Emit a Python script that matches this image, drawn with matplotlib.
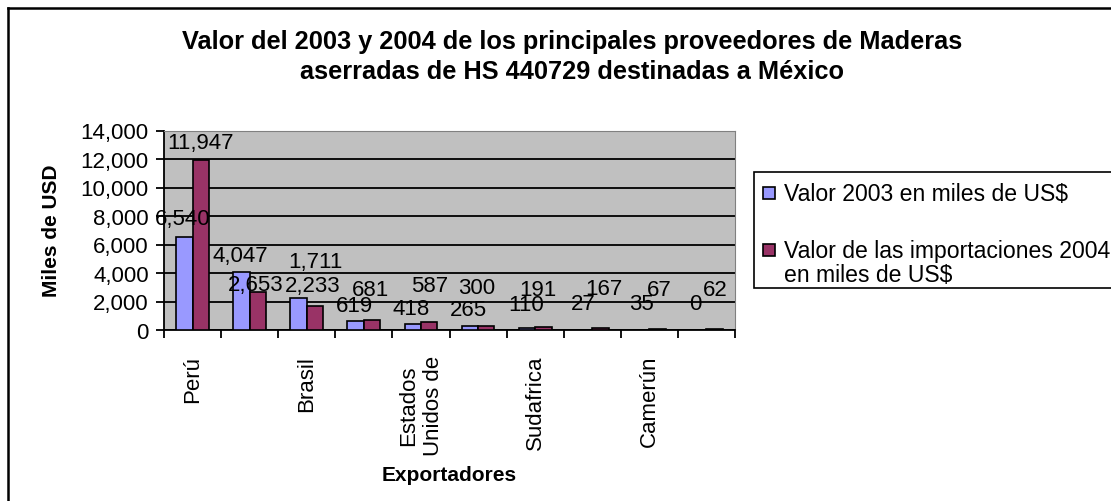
import matplotlib.pyplot as plt
from matplotlib.patches import Rectangle
from matplotlib.ticker import FuncFormatter
import numpy as np

plt.rcParams['font.family'] = ['Liberation Sans', 'DejaVu Sans']

# data
paises = ['Perú', '', 'Brasil', '', 'Estados\nUnidos de', '', 'Sudafrica', '', 'Camerún', '']
valor_2003 = [6540, 4047, 2233, 619, 418, 265, 110, 27, 35, 0]
valor_2004 = [11947, 2653, 1711, 681, 587, 300, 191, 167, 67, 62]
serie_2003 = 'Valor 2003 en miles de US$'
serie_2004 = 'Valor de las importaciones 2004\nen miles de US$'
titulo = 'Valor del 2003 y 2004 de los principales proveedores de Maderas\naserradas de HS 440729 destinadas a México'

# label offsets in pixels (dx, dy) as they sit in the original
off_2003 = [(-2, 18), (-1, 17), (14, 13), (-1, 16), (-2, 16), (-1, 17), (-1, 24), (-1, 26), (0, 26), (-3, 26)]
off_2004 = [(0, 17), (-2, 8), (0, 44), (-2, 31), (0, 36), (-10, 38), (-5, 38), (3, 39), (2, 40), (1, 40)]

W, H = 1111, 502
fig = plt.figure(figsize=(W / 100, H / 100), dpi=100)
ax = fig.add_axes([164 / W, 1 - 331 / H, (735 - 164) / W, (331 - 131.5) / H])
ax.set_facecolor('#C0C0C0')

x = np.arange(len(paises))
bw = 0.287
b1 = ax.bar(x - bw / 2, valor_2003, bw, color='#9999FF', edgecolor='black', linewidth=1.2, zorder=3)
b2 = ax.bar(x + bw / 2, valor_2004, bw, color='#993366', edgecolor='black', linewidth=1.2, zorder=3)

for bars, vals, offs in [(b1, valor_2003, off_2003), (b2, valor_2004, off_2004)]:
    for r, v, (dx, dy) in zip(bars, vals, offs):
        ax.annotate(f'{v:,}', (r.get_x() + r.get_width() / 2, v), xytext=(dx, dy),
                    textcoords='offset pixels', ha='center', va='center', fontsize=16, zorder=4)

ax.set_xlim(-0.5, len(paises) - 0.5)
ax.set_ylim(0, 14000)
ax.set_yticks(np.arange(0, 14001, 2000))
ax.yaxis.set_major_formatter(FuncFormatter(lambda v, p: f'{int(v):,}'))
ax.grid(axis='y', color='black', linewidth=1.3, zorder=1)
ax.set_axisbelow(True)

ax.set_xticks(np.arange(-0.5, len(paises), 1))
ax.set_xticklabels([])
ax.set_xticks(x[::2], minor=True)
ax.set_xticklabels(paises[::2], minor=True, rotation=90, va='top', ha='center',
                   multialignment='center', fontsize=16)
ax.tick_params(axis='x', which='minor', length=0, pad=18)
ax.tick_params(axis='x', which='major', length=6, width=1.3, direction='out')
ax.tick_params(axis='y', length=6, width=1.3, labelsize=16, pad=5)

for s in ['left', 'bottom']:
    ax.spines[s].set_linewidth(1.3)
for s in ['top', 'right']:
    ax.spines[s].set_color('#808080')

ax.set_ylabel('Miles de USD', fontsize=15, fontweight='bold', labelpad=14)
ax.set_xlabel('Exportadores', fontsize=15, fontweight='bold')
ax.xaxis.set_label_coords(0.5, -(466 - 331) / (331 - 131.5))

fig.text(572 / W, 1 - 57 / H, titulo, ha='center', va='center', fontsize=18.3,
         fontweight='bold', linespacing=1.32)

# chart border (left and top edges, the rest is cut off)
fig.add_artist(plt.Line2D([8 / W, 8 / W], [0, 1 - 9 / H], color='black', lw=1.8))
fig.add_artist(plt.Line2D([8 / W, 1], [1 - 9 / H, 1 - 9 / H], color='black', lw=1.8))

# legend box
fig.add_artist(Rectangle((754 / W, 1 - 289 / H), 500 / W, 116 / H, transform=fig.transFigure,
                         facecolor='white', edgecolor='black', lw=1.2))
for bars, lab, yc in [(b1, serie_2003, 194), (b2, serie_2004, 251)]:
    fig.add_artist(Rectangle((763 / W, 1 - (yc + 6) / H), 12 / W, 12 / H, transform=fig.transFigure,
                             facecolor=bars[0].get_facecolor(), edgecolor='black', lw=1.2))
    fig.text(784 / W, 1 - (yc - 11) / H, lab, ha='left', va='top', fontsize=16.6, linespacing=1.05)

plt.savefig('out.png', dpi=100)
